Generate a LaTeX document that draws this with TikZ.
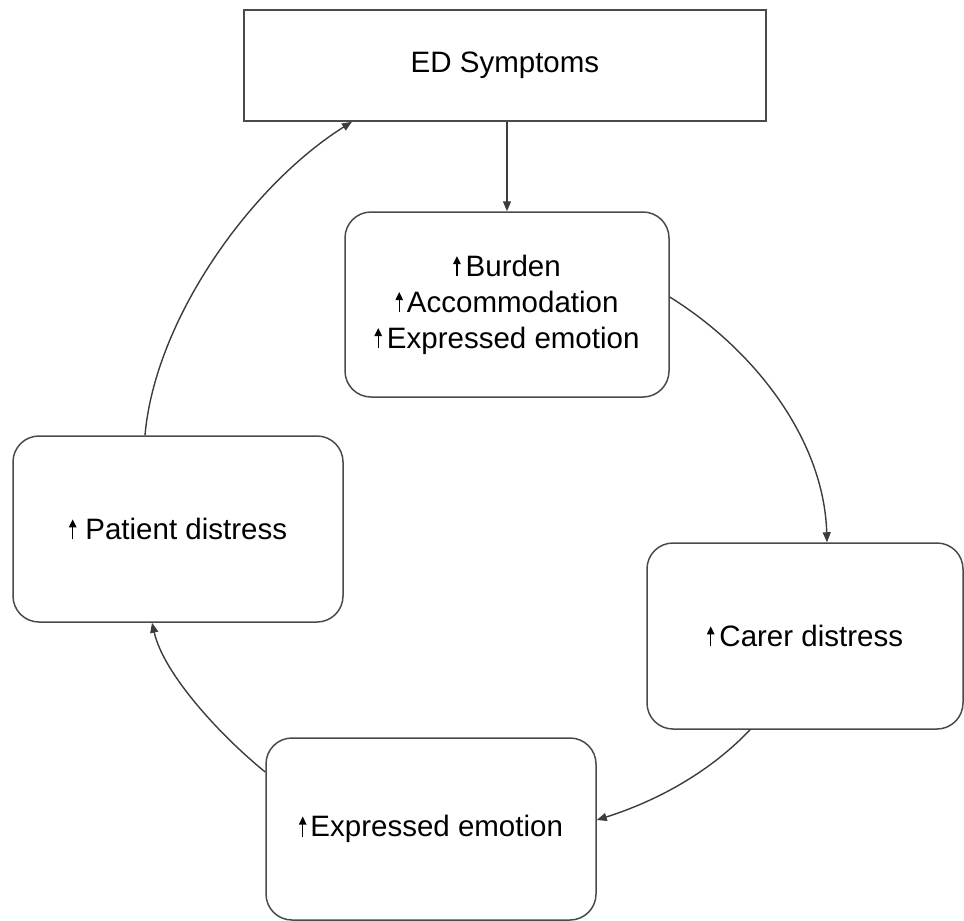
\documentclass[tikz,border=0pt]{standalone}
\usepackage{fontspec}
\setmainfont{Liberation Sans}
\usetikzlibrary{arrows.meta}

\definecolor{edge}{HTML}{3C3C3C}
\definecolor{frame}{HTML}{4A4A4A}

% small filled up-arrow placed before each factor; optional gap after it
\newcommand{\incr}[1][4pt]{\tikz[baseline=0pt]\draw[line width=1.3pt,-{Triangle[length=8pt,width=7.5pt]}] (0pt,0pt) -- (0pt,20pt);\hspace{#1}}

\begin{document}
\begin{tikzpicture}[x=1pt,y=-1pt,
  every node/.style={font=\fontsize{29.5}{36}\selectfont, text=black},
  topbox/.style={draw=frame, line width=1.5pt, rectangle, inner sep=0pt},
  roundbox/.style={draw=frame, line width=1.5pt, rectangle, rounded corners=26pt, inner sep=0pt, align=center},
  link/.style={draw=edge, line width=1.4pt, -{Triangle[length=10pt,width=8pt]}}]

\useasboundingbox (0,0) rectangle (964,921);

% boxes
\node[topbox, minimum width=522pt, minimum height=111pt] (ed) at (505,65.5) {ED Symptoms};
\node[roundbox, minimum width=324pt, minimum height=185pt] (burden) at (507,304.5)
  {\incr[5pt]Burden\\\incr Accommodation\\\incr[5pt]Expressed emotion};
\node[roundbox, minimum width=316pt, minimum height=186pt] (carer) at (805,636) {\incr[5pt]Carer distress};
\node[roundbox, minimum width=330pt, minimum height=182pt] (ee) at (431,829) {\incr Expressed emotion};
\node[roundbox, minimum width=330pt, minimum height=186pt] (patient) at (178,529) {\incr[9pt]Patient distress};

% named ends of the curved connectors
\coordinate (b1) at (burden.east |- 0,297);
\coordinate (c1) at (carer.north -| 827,0);
\coordinate (c2) at (carer.south -| 750,0);
\coordinate (e1) at (ee.east |- 0,820);
\coordinate (e2) at (ee.west |- 0,772);
\coordinate (p1) at (patient.south -| 152,0);
\coordinate (p2) at (patient.north -| 145,0);
\coordinate (d1) at (ed.south -| 352,0);

% connectors
\draw[link] (ed.south -| burden.north) -- (burden.north);
\draw[link] (b1) .. controls (755,350) and (824,440) .. (c1);
\draw[link] (c2) .. controls (712,770) and (660,800) .. (e1);
\draw[link] (e2) .. controls (222,737) and (164,675) .. (p1);
\draw[link] (p2) .. controls (155,320) and (250,186) .. (d1);
\end{tikzpicture}
\end{document}
